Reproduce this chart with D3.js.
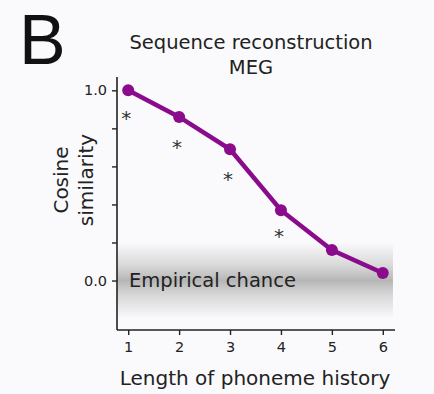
<!DOCTYPE html>
<html>
<head>
<meta charset="utf-8">
<script src="https://cdn.jsdelivr.net/npm/d3@7"></script>
<style>
  body { margin: 0; background: #fafafc; }
  svg { font-family: "DejaVu Sans", sans-serif; }
</style>
</head>
<body>
<svg id="chart" width="434" height="394"></svg>
<script>
// phoneme history length
let lengths = [1, 2, 3, 4, 5, 6];
// cosine similarity (MEG)
let similarity = [1.0, 0.86, 0.69, 0.37, 0.16, 0.04];
// significance marks (asterisks) for lengths 1-4
let starLengths = [1, 2, 3, 4];
let starValues = [0.87, 0.72, 0.55, 0.25];
let yTicks = [0, 0.2, 0.4, 0.6, 0.8, 1.0];
let yTickLabels = ["0.0", "", "", "", "", "1.0"];

let svg = d3.select("#chart");

let xScale = d3.scaleLinear().domain([0.78, 6.24]).range([117, 395]);
let yScale = d3.scaleLinear().domain([-0.26, 1.07]).range([330, 77]);

// empirical chance band
let grad = svg.append("defs").append("linearGradient")
    .attr("id", "band").attr("x1", 0).attr("y1", 0).attr("x2", 0).attr("y2", 1);
grad.append("stop").attr("offset", "0%").attr("stop-color", "#999").attr("stop-opacity", 0);
grad.append("stop").attr("offset", "30%").attr("stop-color", "#999").attr("stop-opacity", 0.35);
grad.append("stop").attr("offset", "50%").attr("stop-color", "#888").attr("stop-opacity", 0.6);
grad.append("stop").attr("offset", "70%").attr("stop-color", "#999").attr("stop-opacity", 0.35);
grad.append("stop").attr("offset", "100%").attr("stop-color", "#999").attr("stop-opacity", 0);

svg.append("rect")
  .attr("x", xScale(0.78))
  .attr("y", yScale(0.2))
  .attr("width", xScale(6.2) - xScale(0.78))
  .attr("height", yScale(-0.2) - yScale(0.2))
  .attr("fill", "url(#band)");

svg.append("text")
  .attr("x", 129).attr("y", yScale(0) + 6)
  .attr("font-size", 19.5).attr("fill", "#222")
  .text("Empirical chance");

// axes
let yAxis = svg.append("g")
  .attr("transform", "translate(" + xScale(0.78) + ",0)")
  .call(d3.axisLeft(yScale).tickValues(yTicks)
    .tickFormat(function(d, i){ return yTickLabels[i]; })
    .tickSize(5).tickPadding(5));
let xAxis = svg.append("g")
  .attr("transform", "translate(0," + yScale(-0.26) + ")")
  .call(d3.axisBottom(xScale).tickValues(lengths).tickFormat(d3.format("d"))
    .tickSize(5).tickPadding(7));

[yAxis, xAxis].forEach(function(g){
  g.select(".domain").attr("stroke", "#222").attr("stroke-width", 1.6);
  g.selectAll(".tick line").attr("stroke", "#222").attr("stroke-width", 1.4);
  g.selectAll(".tick text").attr("font-size", 14.5).attr("fill", "#222")
    .attr("font-family", "DejaVu Sans");
});
yAxis.select(".domain").attr("d", "M0," + yScale(1.07) + "V" + yScale(-0.26));
xAxis.select(".domain").attr("d", "M" + xScale(0.78) + ",0H" + xScale(6.24));

// line + markers
let purple = "#8a0b8c";
svg.append("path")
  .datum(lengths)
  .attr("fill", "none")
  .attr("stroke", purple)
  .attr("stroke-width", 4.5)
  .attr("d", d3.line()
    .x(function(d){ return xScale(d); })
    .y(function(d, i){ return yScale(similarity[i]); }));

svg.selectAll("circle.pt")
  .data(lengths)
  .enter()
  .append("circle")
  .attr("class", "pt")
  .attr("cx", function(d){ return xScale(d); })
  .attr("cy", function(d, i){ return yScale(similarity[i]); })
  .attr("r", 6)
  .attr("fill", purple);

svg.selectAll("text.star")
  .data(starLengths)
  .enter()
  .append("text")
  .attr("class", "star")
  .attr("x", function(d){ return xScale(d) - 2; })
  .attr("y", function(d, i){ return yScale(starValues[i]) + 10; })
  .attr("text-anchor", "middle")
  .attr("font-size", 20)
  .attr("fill", "#333")
  .text("*");

// titles
svg.append("text")
  .attr("x", 19).attr("y", 64)
  .attr("font-family", "Liberation Sans")
  .attr("font-size", 70).attr("fill", "#111")
  .text("B");
svg.append("text")
  .attr("x", 251).attr("y", 49)
  .attr("text-anchor", "middle").attr("font-size", 19.5).attr("fill", "#222")
  .text("Sequence reconstruction");
svg.append("text")
  .attr("x", 251).attr("y", 74)
  .attr("text-anchor", "middle").attr("font-size", 19.5).attr("fill", "#222")
  .text("MEG");

let yLab = svg.append("text")
  .attr("transform", "translate(68,180) rotate(-90)")
  .attr("text-anchor", "middle").attr("font-size", 20).attr("fill", "#222");
yLab.append("tspan").attr("x", 0).attr("dy", 0).text("Cosine");
yLab.append("tspan").attr("x", 0).attr("dy", 25).text("similarity");

svg.append("text")
  .attr("x", 255).attr("y", 385)
  .attr("text-anchor", "middle").attr("font-size", 20).attr("fill", "#222")
  .text("Length of phoneme history");
</script>
</body>
</html>
